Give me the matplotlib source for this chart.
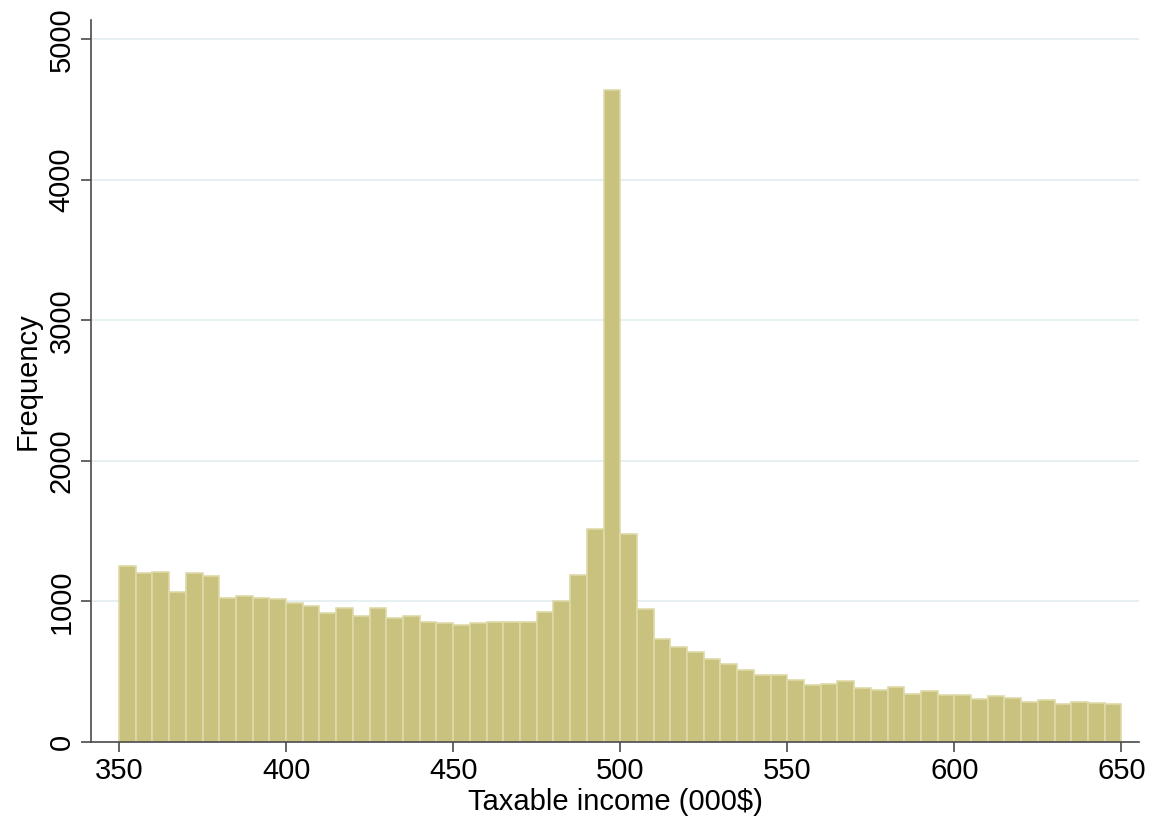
import matplotlib
matplotlib.use("Agg")
import matplotlib.pyplot as plt
import numpy as np

plt.rcParams['font.family'] = ['Liberation Sans', 'DejaVu Sans']

# histogram bins of width 5 (000$), from 350 to 650
bin_edges = np.arange(350, 655, 5)
freq = [1248, 1201, 1208, 1065, 1198, 1181, 1027, 1039, 1023, 1018,
        991, 968, 920, 949, 895, 954, 880, 897, 856, 845,
        833, 845, 856, 856, 856, 927, 1003, 1184, 1516, 4641,
        1478, 944, 732, 678, 638, 588, 555, 512, 472, 477,
        441, 401, 410, 436, 382, 368, 387, 342, 363, 330,
        330, 306, 323, 311, 282, 294, 268, 282, 275, 270]
y_ticks = [0, 1000, 2000, 3000, 4000, 5000]
x_ticks = [350, 400, 450, 500, 550, 600, 650]

fig = plt.figure(figsize=(11.51, 8.26), dpi=100)
ax = fig.add_axes([0.079, 0.102, 0.911, 0.874])

ax.bar(bin_edges[:-1], freq, width=5, align='edge',
       color='#c9c27e', edgecolor='#dedaa8', linewidth=1.2, zorder=2)

ax.set_xlim(341.6, 655.4)
ax.set_ylim(0, 5140)
ax.set_yticks(y_ticks)
ax.set_xticks(x_ticks)
ax.yaxis.grid(True, color='#e4eef1', linewidth=1.3, zorder=0)
ax.set_axisbelow(True)

for s in ['top', 'right']:
    ax.spines[s].set_visible(False)
for s in ['left', 'bottom']:
    ax.spines[s].set_color('#4a4a4a')
    ax.spines[s].set_linewidth(1.2)

ax.tick_params(axis='both', direction='out', length=7, width=1.2,
               color='#4a4a4a', labelsize=21, pad=4)
plt.setp(ax.get_yticklabels(), rotation=90, va='center')

ax.set_xlabel('Taxable income (000$)', fontsize=21, labelpad=2)
ax.set_ylabel('Frequency', fontsize=21, labelpad=4)

fig.savefig('out.png', dpi=100)
